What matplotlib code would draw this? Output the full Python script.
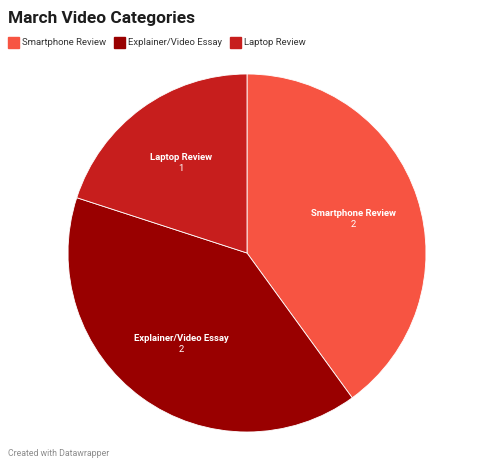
import numpy as np
import matplotlib.pyplot as plt
from matplotlib.patches import Rectangle

plt.rcParams['font.family'] = ['Roboto', 'DejaVu Sans']

categories = ["Smartphone Review", "Explainer/Video Essay", "Laptop Review"]
counts = [2, 2, 1]
colors = ["#f75442", "#990000", "#c71e1d"]

W, H = 494, 467
fig = plt.figure(figsize=(W / 100, H / 100), dpi=100)

# pie area: centre (247, 253), radius 179 px
cx, cy, r = 247, 253, 179
ax = fig.add_axes([(cx - r) / W, (H - cy - r) / H, 2 * r / W, 2 * r / H])
wedges, _ = ax.pie(counts, colors=colors, startangle=90, counterclock=False,
                   wedgeprops=dict(edgecolor="white", linewidth=0.6))
ax.set_xlim(-1, 1)
ax.set_ylim(-1, 1)
ax.set_aspect("equal")
ax.axis("off")

for w, name, n in zip(wedges, categories, counts):
    ang = np.deg2rad((w.theta1 + w.theta2) / 2)
    x, y = 0.625 * np.cos(ang), 0.625 * np.sin(ang)
    ax.text(x, y + 0.03, name, ha="center", va="center", color="white",
            fontsize=6.8, fontweight="bold")
    ax.text(x, y - 0.035, str(n), ha="center", va="center", color="white",
            fontsize=6.8)

fig.text(8 / W, 1 - 18 / H, "March Video Categories", fontsize=12.4,
         fontweight="bold", va="center", ha="left", color="#1d1d1d")

# legend drawn by hand, one swatch + label after another
renderer = fig.canvas.get_renderer()
lx, ly = 8, 42.5
for name, c in zip(categories, colors):
    fig.patches.append(Rectangle((lx / W, 1 - (ly + 5.5) / H), 11 / W, 11 / H,
                                 transform=fig.transFigure, color=c))
    t = fig.text((lx + 14) / W, 1 - ly / H, name, fontsize=6.8, color="#333333",
                 va="center", ha="left")
    bb = t.get_window_extent(renderer)
    lx = bb.x1 + 8

fig.text(8 / W, 1 - 454 / H, "Created with Datawrapper", fontsize=6.3,
         color="#8c8c8c", va="center", ha="left")

fig.savefig("out.png", dpi=100)
